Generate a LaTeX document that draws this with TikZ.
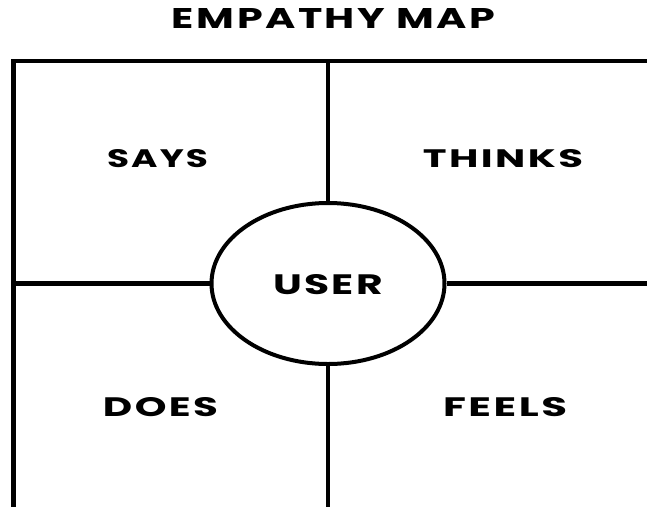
\documentclass[tikz,border=0pt]{standalone}
\usepackage{fontspec}
\setmainfont{Poppins}[LetterSpace=6]
\usepackage{graphicx}
\usetikzlibrary{shapes.geometric}
\newcommand\fitlbl[3]{\resizebox{#1pt}{#2pt}{\bfseries #3}}
\tikzset{
  grid line/.style={line width=4.6pt, line join=miter},
  lbl/.style={inner sep=0pt, anchor=center},
  usershape/.style={ellipse, draw, line width=4pt, fill=white, inner sep=0pt,
    minimum width=233pt, minimum height=161pt}
}
\begin{document}
\begin{tikzpicture}[x=1pt,y=-1pt]
\useasboundingbox (0,0) rectangle (647,506);
\clip (0,0) rectangle (647,506);
% coordinates
\coordinate (tl) at (13.5,61);
\coordinate (tm) at (328,61);
\coordinate (tr) at (670,61);
\coordinate (bl) at (13.5,530);
\coordinate (bm) at (328,530);
\coordinate (lm) at (13.5,283.5);
\coordinate (rm) at (670,283.5);
% ellipse
\node[usershape] (user) at (328,283.5) {};
% frame and dividers
\draw[grid line] (bl) -- (tl) -- (tr);
\draw[grid line] (tm) -- (user.north);
\draw[grid line] (user.south) -- (bm);
\draw[grid line] (lm) -- (user.west);
\draw[grid line] (user.east) -- (rm);
% labels
\node[lbl] (title) at (333.5,18) {\fitlbl{323}{20}{EMPATHY MAP}};
\node[lbl] (userlbl) at (328,285) {\fitlbl{110}{20}{USER}};
\node[lbl] (says) at (157.5,159) {\fitlbl{101}{18}{SAYS}};
\node[lbl] (thinks) at (503,159) {\fitlbl{160}{18}{THINKS}};
\node[lbl] (does) at (160.5,407.5) {\fitlbl{115}{19}{DOES}};
\node[lbl] (feels) at (505,407.5) {\fitlbl{124}{19}{FEELS}};
\end{tikzpicture}
\end{document}
